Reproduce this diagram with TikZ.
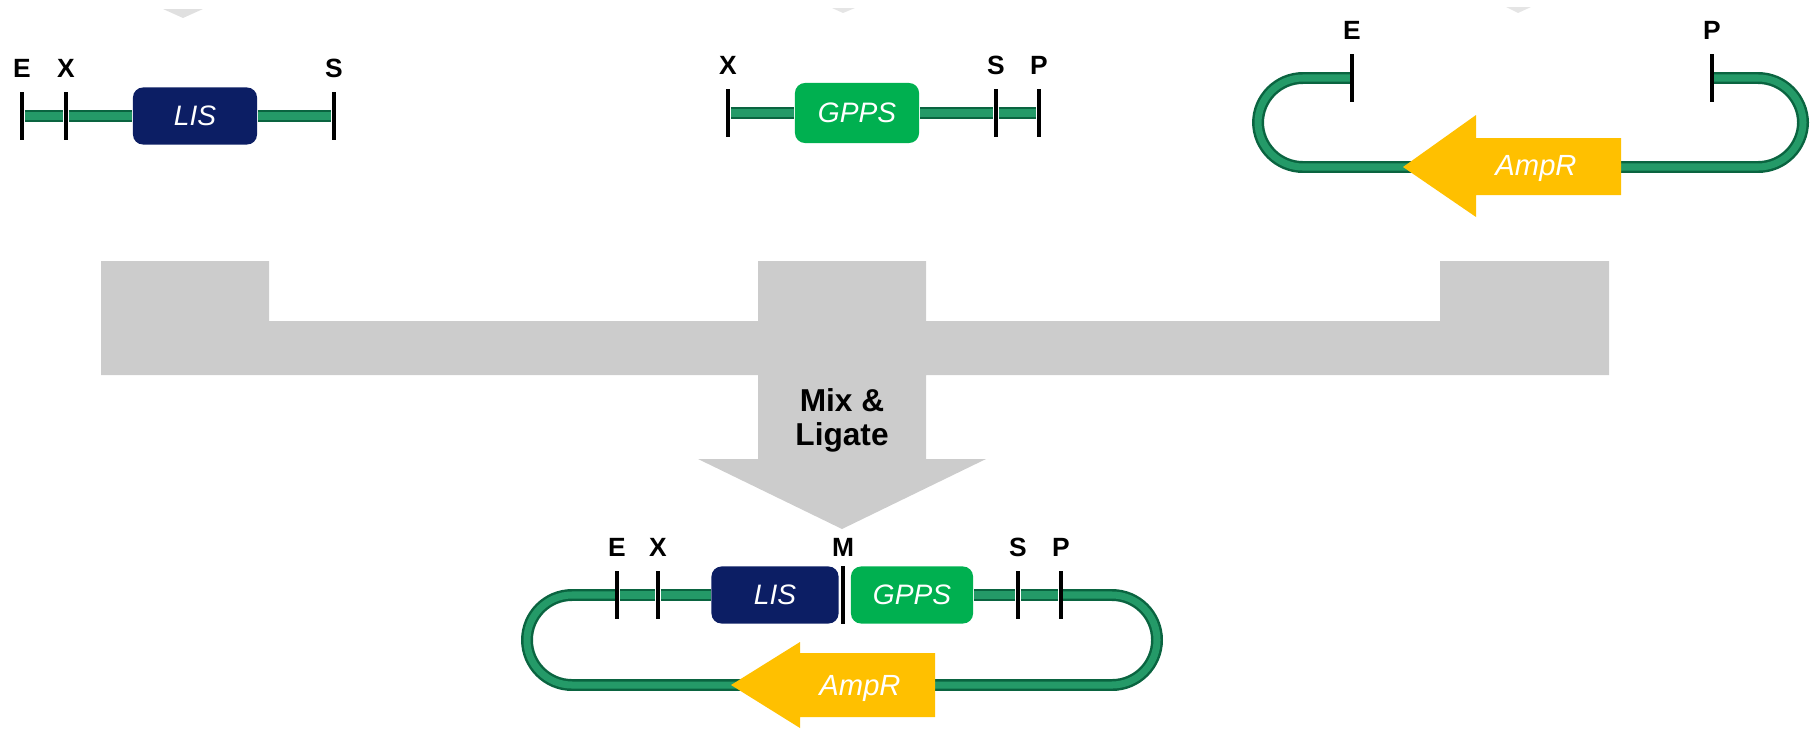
\documentclass[tikz,border=0pt]{standalone}
\usepackage{fontspec}
\setmainfont{Liberation Sans}
\usepackage{xcolor}
\usetikzlibrary{positioning}
\definecolor{dnadark}{RGB}{10,100,64}
\definecolor{dnalight}{RGB}{36,154,104}
\definecolor{lisblue}{RGB}{12,30,100}
\definecolor{gppsgreen}{RGB}{0,176,80}
\definecolor{ampgold}{RGB}{255,192,0}
\definecolor{flowgray}{RGB}{204,204,204}

\begin{document}
\begin{tikzpicture}[x=0.01cm,y=-0.01cm,
tick/.style={fill=black,inner sep=0pt,minimum width=0.04cm,minimum height=0.48cm},
site/.style={inner sep=0pt,font=\fontsize{7.5}{9}\selectfont\bfseries},
dna/.style={draw=dnadark,double=dnalight,double distance=2pt,line width=0.7pt},
gene/.style={rounded corners=0.1cm,inner sep=0pt,minimum height=0.57cm,text=white,font=\fontsize{8}{9}\selectfont\itshape},
amptext/.style={text=white,font=\fontsize{8.3}{9}\selectfont\itshape},
mixlbl/.style={align=center,font=\fontsize{9}{9.6}\selectfont\bfseries}]
\useasboundingbox (0,0) rectangle (1819,736);
% cut-off tips from the step above
\fill[flowgray,opacity=.6] (163,9) -- (203,9) -- (183,18) -- cycle;
\fill[flowgray,opacity=.5] (832,8) -- (855,8) -- (843,13) -- cycle;
\fill[flowgray,opacity=.5] (1506,7) -- (1531,7) -- (1518,13) -- cycle;
% mixing arrow
\fill[flowgray] (101,261) -- (269,261) -- (269,321) -- (758,321) -- (758,261) -- (926,261) -- (926,321)
  -- (1440,321) -- (1440,261) -- (1609,261) -- (1609,375) -- (926,375) -- (926,459) -- (986,459)
  -- (842,529) -- (698,459) -- (758,459) -- (758,375) -- (101,375) -- cycle;
\node[mixlbl](mix) at (842,420){Mix \&\\Ligate};
% LIS part
\node[tick](lE) at (22,116){};
\node[tick](lX) at (66,116){};
\node[tick](lS) at (334,116){};
\node[gene,fill=lisblue,minimum width=1.24cm](lLIS) at (195,116){LIS};
\node[site,above=0.13cm of lE](lEl){E};
\node[site,above=0.13cm of lX](lXl){X};
\node[site,above=0.13cm of lS](lSl){S};
\draw[dna](lE)--(lX);
\draw[dna](lX)--(lLIS);
\draw[dna](lLIS)--(lS);
% GPPS part
\node[tick](gX) at (728,113){};
\node[tick](gS) at (996,113){};
\node[tick](gP) at (1039,113){};
\node[gene,fill=gppsgreen,minimum width=1.24cm,minimum height=0.6cm](gGPPS) at (857,113){GPPS};
\node[site,above=0.13cm of gX](gXl){X};
\node[site,above=0.13cm of gS](gSl){S};
\node[site,above=0.13cm of gP](gPl){P};
\draw[dna](gX)--(gGPPS);
\draw[dna](gGPPS)--(gS);
\draw[dna](gS)--(gP);
% open vector
\node[tick](pE) at (1352,78){};
\node[tick](pP) at (1712,78){};
\node[site,above=0.13cm of pE](pEl){E};
\node[site,above=0.13cm of pP](pPl){P};
\draw[dna,rounded corners=0.45cm](pE.center)--(1258,78)--(1258,167)--(1803,167)--(1803,78)--(pP.center);
\fill[ampgold](1403,167)--(1476,115)--(1476,138)--(1621,138)--(1621,195)--(1476,195)--(1476,217)--cycle;
\node[amptext](pAmp) at (1536,168){AmpR};
\node[tick] at (pE){};
\node[tick] at (pP){};
% ligated plasmid
\draw[dna,rounded corners=0.45cm](617,595)--(527,595)--(527,685)--(1157,685)--(1157,595)--(1061,595);
\node[tick](bE) at (617,595){};
\node[tick](bX) at (658,595){};
\node[tick,minimum height=0.58cm](bM) at (843,595){};
\node[tick](bS) at (1018,595){};
\node[tick](bP) at (1061,595){};
\node[gene,fill=lisblue,minimum width=1.27cm](bLIS) at (775,595){LIS};
\node[gene,fill=gppsgreen,minimum width=1.22cm](bGPPS) at (912,595){GPPS};
\node[site,above=0.13cm of bE](bEl){E};
\node[site,above=0.13cm of bX](bXl){X};
\node[site,above=0.08cm of bM](bMl){M};
\node[site,above=0.13cm of bS](bSl){S};
\node[site,above=0.13cm of bP](bPl){P};
\draw[dna](bE)--(bX);
\draw[dna](bX)--(bLIS);
\draw[dna](bGPPS)--(bS);
\draw[dna](bS)--(bP);
\fill[ampgold](731,685)--(800,642)--(800,653)--(935,653)--(935,717)--(800,717)--(800,728)--cycle;
\node[amptext](bAmp) at (860,688){AmpR};
\end{tikzpicture}
\end{document}
